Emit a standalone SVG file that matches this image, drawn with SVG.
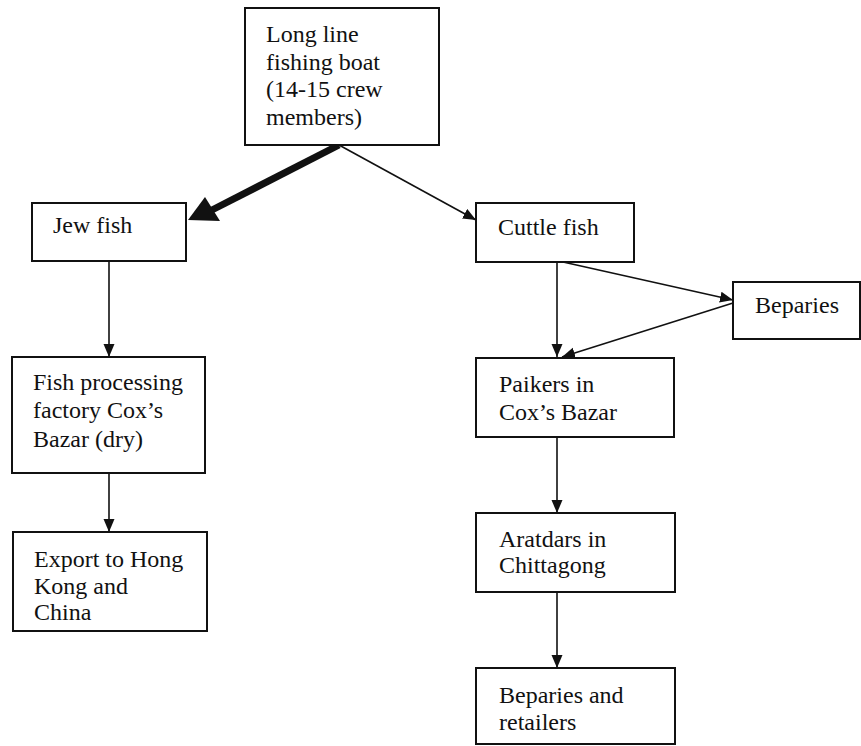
<svg xmlns="http://www.w3.org/2000/svg" width="861" height="746" viewBox="0 0 861 746">
<style>
.box{fill:#fff;stroke:#111;stroke-width:2}
.t{font-family:"Liberation Serif","Times New Roman",serif;font-size:24px;fill:#111}
.c{stroke:#111;stroke-width:1.6;fill:none}
</style>
<defs>
<marker id="ah" markerUnits="userSpaceOnUse" markerWidth="14" markerHeight="12" refX="13" refY="6" orient="auto">
<path d="M0,0.5 L13,6 L0,11.5 z" fill="#111"/>
</marker>
</defs>
<rect width="861" height="746" fill="#fff"/>
<g id="connectors">
<line class="c" x1="339" y1="145" x2="476" y2="220" marker-end="url(#ah)"/>
<line x1="339" y1="145" x2="210" y2="211" stroke="#111" stroke-width="7"/>
<polygon points="188,220 205,197 220,221" fill="#111"/>
<line class="c" x1="109" y1="261" x2="109" y2="357" marker-end="url(#ah)"/>
<line class="c" x1="109" y1="473" x2="109" y2="532" marker-end="url(#ah)"/>
<line class="c" x1="557" y1="262" x2="557" y2="357" marker-end="url(#ah)"/>
<line class="c" x1="563" y1="262" x2="733" y2="300" marker-end="url(#ah)"/>
<line class="c" x1="733" y1="303" x2="562" y2="357" marker-end="url(#ah)"/>
<line class="c" x1="557" y1="437" x2="557" y2="513" marker-end="url(#ah)"/>
<line class="c" x1="557" y1="592" x2="557" y2="668" marker-end="url(#ah)"/>
</g>
<g id="boat">
<rect class="box" x="245" y="8" width="194" height="137"/>
<text class="t" x="266" y="42">Long line</text>
<text class="t" x="266" y="69.5">fishing boat</text>
<text class="t" x="266" y="97">(14-15 crew</text>
<text class="t" x="266" y="124.5">members)</text>
</g>
<g id="jewfish">
<rect class="box" x="32" y="203" width="154" height="58"/>
<text class="t" x="53" y="233">Jew fish</text>
</g>
<g id="cuttlefish">
<rect class="box" x="476" y="203" width="158" height="59"/>
<text class="t" x="498" y="235">Cuttle fish</text>
</g>
<g id="beparies">
<rect class="box" x="733" y="282" width="127" height="57"/>
<text class="t" x="755" y="313">Beparies</text>
</g>
<g id="factory">
<rect class="box" x="12" y="357" width="193" height="116"/>
<text class="t" x="33" y="390">Fish processing</text>
<text class="t" x="33" y="418">factory Cox’s</text>
<text class="t" x="33" y="447">Bazar (dry)</text>
</g>
<g id="export">
<rect class="box" x="13" y="532" width="194" height="99"/>
<text class="t" x="34" y="567">Export to Hong</text>
<text class="t" x="34" y="594">Kong and</text>
<text class="t" x="34" y="620">China</text>
</g>
<g id="paikers">
<rect class="box" x="476" y="358" width="198" height="79"/>
<text class="t" x="499" y="392">Paikers in</text>
<text class="t" x="499" y="420">Cox’s Bazar</text>
</g>
<g id="aratdars">
<rect class="box" x="476" y="513" width="199" height="79"/>
<text class="t" x="499" y="547">Aratdars in</text>
<text class="t" x="499" y="573">Chittagong</text>
</g>
<g id="retailers">
<rect class="box" x="476" y="668" width="199" height="76"/>
<text class="t" x="499" y="703">Beparies and</text>
<text class="t" x="499" y="730">retailers</text>
</g>
</svg>
